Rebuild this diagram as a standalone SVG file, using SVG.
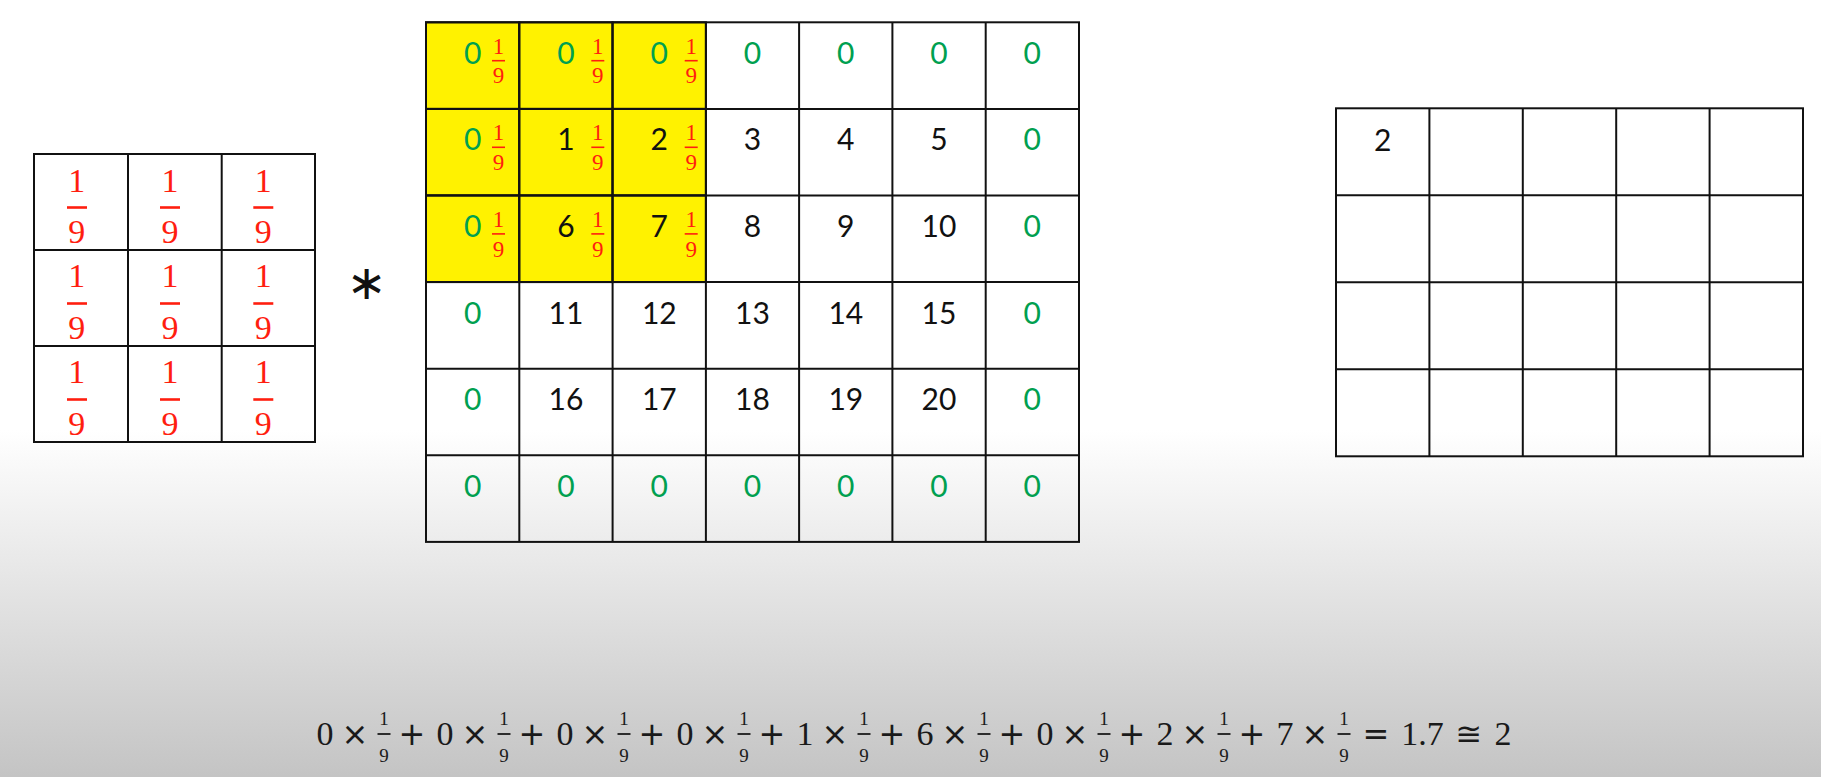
<svg xmlns="http://www.w3.org/2000/svg" width="1821" height="777" viewBox="0 0 1821 777">
<defs>
<linearGradient id="bg" x1="0" y1="430" x2="0" y2="777" gradientUnits="userSpaceOnUse">
<stop offset="0" stop-color="#ffffff"/>
<stop offset="1" stop-color="#c4c4c4"/>
</linearGradient>
<style>
.cell{fill:none;stroke:#111;stroke-width:2}
.hl{fill:#fff200;stroke:#111;stroke-width:2}
.num{font-family:Lato,"Liberation Sans",sans-serif;font-size:30px;fill:#111;text-anchor:middle}
.g{fill:#00a050}
.kf{font-family:"Liberation Serif",serif;font-size:34px;fill:#ff1e0f;text-anchor:middle}
.kbar{stroke:#ff1e0f;stroke-width:2.6}
.sf{font-family:"Liberation Serif",serif;font-size:23px;fill:#ff1e0f;text-anchor:middle}
.sbar{stroke:#ff1e0f;stroke-width:1.6}
.eq{font-family:"Liberation Serif","DejaVu Serif",serif;font-size:34px;fill:#1a1a1a;text-anchor:middle}
.op{font-family:"DejaVu Sans",sans-serif;font-size:32px;fill:#1a1a1a;text-anchor:middle}
.ef{font-family:"Liberation Serif",serif;font-size:19px;fill:#1a1a1a;text-anchor:middle}
.ebar{stroke:#1a1a1a;stroke-width:1.8}
</style>
</defs>
<rect x="0" y="0" width="1821" height="777" fill="url(#bg)"/>

<g id="kernel">
<rect class="cell" x="34" y="154" width="281" height="288"/>
<line class="cell" x1="128" y1="154" x2="128" y2="442"/>
<line class="cell" x1="221.7" y1="154" x2="221.7" y2="442"/>
<line class="cell" x1="34" y1="250" x2="315" y2="250"/>
<line class="cell" x1="34" y1="346" x2="315" y2="346"/>
<g id="kernel-r0">
<text class="kf" x="76.7" y="191.5">1</text><line class="kbar" x1="67" y1="207.5" x2="87" y2="207.5"/><text class="kf" x="76.7" y="243">9</text>
<text class="kf" x="170" y="191.5">1</text><line class="kbar" x1="160" y1="207.5" x2="180" y2="207.5"/><text class="kf" x="170" y="243">9</text>
<text class="kf" x="263.3" y="191.5">1</text><line class="kbar" x1="253.3" y1="207.5" x2="273.3" y2="207.5"/><text class="kf" x="263.3" y="243">9</text>
</g>
<g id="kernel-r1">
<text class="kf" x="76.7" y="287">1</text><line class="kbar" x1="67" y1="303.5" x2="87" y2="303.5"/><text class="kf" x="76.7" y="338.5">9</text>
<text class="kf" x="170" y="287">1</text><line class="kbar" x1="160" y1="303.5" x2="180" y2="303.5"/><text class="kf" x="170" y="338.5">9</text>
<text class="kf" x="263.3" y="287">1</text><line class="kbar" x1="253.3" y1="303.5" x2="273.3" y2="303.5"/><text class="kf" x="263.3" y="338.5">9</text>
</g>
<g id="kernel-r2">
<text class="kf" x="76.7" y="383">1</text><line class="kbar" x1="67" y1="399.5" x2="87" y2="399.5"/><text class="kf" x="76.7" y="434.5">9</text>
<text class="kf" x="170" y="383">1</text><line class="kbar" x1="160" y1="399.5" x2="180" y2="399.5"/><text class="kf" x="170" y="434.5">9</text>
<text class="kf" x="263.3" y="383">1</text><line class="kbar" x1="253.3" y1="399.5" x2="273.3" y2="399.5"/><text class="kf" x="263.3" y="434.5">9</text>
</g>
</g>

<g id="operator">
<text x="366.7" y="299" font-family="DejaVu Sans,sans-serif" font-size="48" fill="#111" text-anchor="middle">∗</text>
</g>

<g id="input">
<rect class="hl" x="426" y="22.3" width="93.3" height="86.6"/>
<rect class="hl" x="519.3" y="22.3" width="93.3" height="86.6"/>
<rect class="hl" x="612.6" y="22.3" width="93.3" height="86.6"/>
<rect class="hl" x="426" y="108.9" width="93.3" height="86.6"/>
<rect class="hl" x="519.3" y="108.9" width="93.3" height="86.6"/>
<rect class="hl" x="612.6" y="108.9" width="93.3" height="86.6"/>
<rect class="hl" x="426" y="195.5" width="93.3" height="86.6"/>
<rect class="hl" x="519.3" y="195.5" width="93.3" height="86.6"/>
<rect class="hl" x="612.6" y="195.5" width="93.3" height="86.6"/>
<rect class="cell" x="426" y="22.3" width="653" height="519.6"/>
<line class="cell" x1="519.3" y1="22.3" x2="519.3" y2="541.9"/>
<line class="cell" x1="612.6" y1="22.3" x2="612.6" y2="541.9"/>
<line class="cell" x1="705.9" y1="22.3" x2="705.9" y2="541.9"/>
<line class="cell" x1="799.1" y1="22.3" x2="799.1" y2="541.9"/>
<line class="cell" x1="892.4" y1="22.3" x2="892.4" y2="541.9"/>
<line class="cell" x1="985.7" y1="22.3" x2="985.7" y2="541.9"/>
<line class="cell" x1="426" y1="108.9" x2="1079" y2="108.9"/>
<line class="cell" x1="426" y1="195.5" x2="1079" y2="195.5"/>
<line class="cell" x1="426" y1="282.1" x2="1079" y2="282.1"/>
<line class="cell" x1="426" y1="368.7" x2="1079" y2="368.7"/>
<line class="cell" x1="426" y1="455.3" x2="1079" y2="455.3"/>

<g id="input-r0">
<text class="num g" x="472.7" y="63.5">0</text>
<text class="num g" x="566" y="63.5">0</text>
<text class="num g" x="659.3" y="63.5">0</text>
<text class="num g" x="752.5" y="63.5">0</text>
<text class="num g" x="845.8" y="63.5">0</text>
<text class="num g" x="939" y="63.5">0</text>
<text class="num g" x="1032.3" y="63.5">0</text>
</g>
<g id="input-r1">
<text class="num g" x="472.7" y="150.3">0</text>
<text class="num" x="566" y="150.3">1</text>
<text class="num" x="659.3" y="150.3">2</text>
<text class="num" x="752.5" y="150.3">3</text>
<text class="num" x="845.8" y="150.3">4</text>
<text class="num" x="939" y="150.3">5</text>
<text class="num g" x="1032.3" y="150.3">0</text>
</g>
<g id="input-r2">
<text class="num g" x="472.7" y="237">0</text>
<text class="num" x="566" y="237">6</text>
<text class="num" x="659.3" y="237">7</text>
<text class="num" x="752.5" y="237">8</text>
<text class="num" x="845.8" y="237">9</text>
<text class="num" x="939" y="237">10</text>
<text class="num g" x="1032.3" y="237">0</text>
</g>
<g id="input-r3">
<text class="num g" x="472.7" y="323.6">0</text>
<text class="num" x="566" y="323.6">11</text>
<text class="num" x="659.3" y="323.6">12</text>
<text class="num" x="752.5" y="323.6">13</text>
<text class="num" x="845.8" y="323.6">14</text>
<text class="num" x="939" y="323.6">15</text>
<text class="num g" x="1032.3" y="323.6">0</text>
</g>
<g id="input-r4">
<text class="num g" x="472.7" y="410.2">0</text>
<text class="num" x="566" y="410.2">16</text>
<text class="num" x="659.3" y="410.2">17</text>
<text class="num" x="752.5" y="410.2">18</text>
<text class="num" x="845.8" y="410.2">19</text>
<text class="num" x="939" y="410.2">20</text>
<text class="num g" x="1032.3" y="410.2">0</text>
</g>
<g id="input-r5">
<text class="num g" x="472.7" y="496.8">0</text>
<text class="num g" x="566" y="496.8">0</text>
<text class="num g" x="659.3" y="496.8">0</text>
<text class="num g" x="752.5" y="496.8">0</text>
<text class="num g" x="845.8" y="496.8">0</text>
<text class="num g" x="939" y="496.8">0</text>
<text class="num g" x="1032.3" y="496.8">0</text>
</g>

<g id="weights">
<text class="sf" x="498.5" y="54">1</text><line class="sbar" x1="492" y1="60.7" x2="505" y2="60.7"/><text class="sf" x="498.5" y="83">9</text>
<text class="sf" x="597.8" y="54">1</text><line class="sbar" x1="591.3" y1="60.7" x2="604.3" y2="60.7"/><text class="sf" x="597.8" y="83">9</text>
<text class="sf" x="691.2" y="54">1</text><line class="sbar" x1="684.7" y1="60.7" x2="697.7" y2="60.7"/><text class="sf" x="691.2" y="83">9</text>
<text class="sf" x="498.5" y="139.5">1</text><line class="sbar" x1="492" y1="147.3" x2="505" y2="147.3"/><text class="sf" x="498.5" y="170">9</text>
<text class="sf" x="597.8" y="139.5">1</text><line class="sbar" x1="591.3" y1="147.3" x2="604.3" y2="147.3"/><text class="sf" x="597.8" y="170">9</text>
<text class="sf" x="691.2" y="139.5">1</text><line class="sbar" x1="684.7" y1="147.3" x2="697.7" y2="147.3"/><text class="sf" x="691.2" y="170">9</text>
<text class="sf" x="498.5" y="226.5">1</text><line class="sbar" x1="492" y1="233.9" x2="505" y2="233.9"/><text class="sf" x="498.5" y="256.5">9</text>
<text class="sf" x="597.8" y="226.5">1</text><line class="sbar" x1="591.3" y1="233.9" x2="604.3" y2="233.9"/><text class="sf" x="597.8" y="256.5">9</text>
<text class="sf" x="691.2" y="226.5">1</text><line class="sbar" x1="684.7" y1="233.9" x2="697.7" y2="233.9"/><text class="sf" x="691.2" y="256.5">9</text>
</g>
</g>

<g id="output">
<rect class="cell" x="1336" y="108.3" width="467" height="348"/>
<line class="cell" x1="1429.4" y1="108.3" x2="1429.4" y2="456.3"/>
<line class="cell" x1="1522.8" y1="108.3" x2="1522.8" y2="456.3"/>
<line class="cell" x1="1616.2" y1="108.3" x2="1616.2" y2="456.3"/>
<line class="cell" x1="1709.6" y1="108.3" x2="1709.6" y2="456.3"/>
<line class="cell" x1="1336" y1="195.3" x2="1803" y2="195.3"/>
<line class="cell" x1="1336" y1="282.3" x2="1803" y2="282.3"/>
<line class="cell" x1="1336" y1="369.3" x2="1803" y2="369.3"/>
<text class="num" x="1382.7" y="151">2</text>
</g>

<g id="equation">
<text class="eq" x="325" y="745">0</text><text class="op" x="355" y="745">×</text><text class="ef" x="384" y="725">1</text><line class="ebar" x1="377.5" y1="734" x2="390.5" y2="734"/><text class="ef" x="384" y="762">9</text><text class="op" x="412" y="745">+</text>
<text class="eq" x="445" y="745">0</text><text class="op" x="475" y="745">×</text><text class="ef" x="504" y="725">1</text><line class="ebar" x1="497.5" y1="734" x2="510.5" y2="734"/><text class="ef" x="504" y="762">9</text><text class="op" x="532" y="745">+</text>
<text class="eq" x="565" y="745">0</text><text class="op" x="595" y="745">×</text><text class="ef" x="624" y="725">1</text><line class="ebar" x1="617.5" y1="734" x2="630.5" y2="734"/><text class="ef" x="624" y="762">9</text><text class="op" x="652" y="745">+</text>
<text class="eq" x="685" y="745">0</text><text class="op" x="715" y="745">×</text><text class="ef" x="744" y="725">1</text><line class="ebar" x1="737.5" y1="734" x2="750.5" y2="734"/><text class="ef" x="744" y="762">9</text><text class="op" x="772" y="745">+</text>
<text class="eq" x="805" y="745">1</text><text class="op" x="835" y="745">×</text><text class="ef" x="864" y="725">1</text><line class="ebar" x1="857.5" y1="734" x2="870.5" y2="734"/><text class="ef" x="864" y="762">9</text><text class="op" x="892" y="745">+</text>
<text class="eq" x="925" y="745">6</text><text class="op" x="955" y="745">×</text><text class="ef" x="984" y="725">1</text><line class="ebar" x1="977.5" y1="734" x2="990.5" y2="734"/><text class="ef" x="984" y="762">9</text><text class="op" x="1012" y="745">+</text>
<text class="eq" x="1045" y="745">0</text><text class="op" x="1075" y="745">×</text><text class="ef" x="1104" y="725">1</text><line class="ebar" x1="1097.5" y1="734" x2="1110.5" y2="734"/><text class="ef" x="1104" y="762">9</text><text class="op" x="1132" y="745">+</text>
<text class="eq" x="1165" y="745">2</text><text class="op" x="1195" y="745">×</text><text class="ef" x="1224" y="725">1</text><line class="ebar" x1="1217.5" y1="734" x2="1230.5" y2="734"/><text class="ef" x="1224" y="762">9</text><text class="op" x="1252" y="745">+</text>
<text class="eq" x="1285" y="745">7</text><text class="op" x="1315" y="745">×</text><text class="ef" x="1344" y="725">1</text><line class="ebar" x1="1337.5" y1="734" x2="1350.5" y2="734"/><text class="ef" x="1344" y="762">9</text>
<text class="op" x="1376" y="745">=</text>
<text class="eq" x="1422.5" y="745">1.7</text>
<text class="op" x="1469" y="745">≅</text>
<text class="eq" x="1503" y="745">2</text>
</g>
</svg>
